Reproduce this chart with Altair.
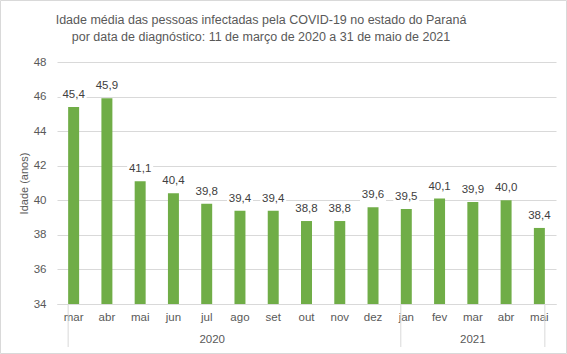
import altair as alt
import pandas as pd

years = ["2020"] * 10 + ["2021"] * 5
months = ["mar", "abr", "mai", "jun", "jul", "ago", "set", "out", "nov", "dez",
          "jan", "fev", "mar", "abr", "mai"]
values = [45.4, 45.9, 41.1, 40.4, 39.8, 39.4, 39.4, 38.8, 38.8, 39.6,
          39.5, 40.1, 39.9, 40.0, 38.4]
y_ticks = [34, 36, 38, 40, 42, 44, 46, 48]
title_lines = ["Idade média das pessoas infectadas pela COVID-19 no estado do Paraná",
               "por data de diagnóstico: 11 de março de 2020 a 31 de maio de 2021"]

keys = [f"{y}-{m}" for y, m in zip(years, months)]
df = pd.DataFrame({"key": keys, "year": years, "month": months, "value": values})
df["label"] = [f"{v:.1f}".replace(".", ",") for v in values]
df["base"] = y_ticks[0]

FONT = "Liberation Sans, sans-serif"
GRAY = "#595959"
W, H = 499, 242
PL, PT = 57, 62

xscale = alt.Scale(domain=keys, paddingInner=0.67, paddingOuter=0.335)
yscale = alt.Scale(domain=[34, 48], nice=False, zero=False)

AX_X = alt.Axis(title=None, labelExpr="split(datum.value, '-')[1]",
                labelAngle=0, ticks=False, grid=False, domainColor="#D9D9D9",
                labelColor=GRAY, labelFontSize=11.5, labelFont=FONT,
                labelPadding=7)
AX_Y = alt.Axis(title="Idade (anos)", values=y_ticks, tickCount=8,
                domain=False, ticks=False, labelOverlap=False,
                gridColor="#D9D9D9", labelColor=GRAY, labelFontSize=11.5,
                labelFont=FONT, labelPadding=11, titleColor=GRAY,
                titleFont=FONT, titleFontSize=11, titleFontWeight="normal",
                titlePadding=4)


def X(bp=0.5):
    return alt.X("key:N", scale=xscale, sort=keys, bandPosition=bp, axis=AX_X)


def Y():
    return alt.Y("value:Q", scale=yscale, axis=AX_Y)


base = alt.Chart(df)

bars = base.mark_bar(color="#70AD47").encode(x=X(), y=Y(), y2="base:Q")

label_bg = base.mark_point(
    shape="M-1,-0.45L1,-0.45L1,0.45L-1,0.45Z", filled=True, color="white",
    opacity=1, size=676, yOffset=-12,
).encode(x=X(), y=Y())

labels = base.mark_text(font=FONT, fontSize=11.5, color="#404040", dy=-12,
                        baseline="middle").encode(
    x=X(), y=Y(), text="label:N",
)


def sep(key, bp):
    return alt.Chart(pd.DataFrame({"key": [key]})).mark_rule(
        color="#D9D9D9", strokeWidth=1).encode(
        x=X(bp), y=alt.value(H), y2=alt.value(H + 43))


def year_label(key, bp, text):
    return alt.Chart(pd.DataFrame({"key": [key], "year": [text]})).mark_text(
        font=FONT, fontSize=11.5, color=GRAY, baseline="middle").encode(
        x=X(bp), y=alt.value(H + 36), text="year:N")


border = alt.Chart(pd.DataFrame({"a": [0]})).mark_rect(
    fill="transparent", stroke="#D9D9D9", strokeWidth=1).encode(
    x=alt.value(-PL + 0.5), x2=alt.value(567 - PL - 0.5),
    y=alt.value(-PT + 0.5), y2=alt.value(354 - PT - 0.5),
)

title = alt.Chart(pd.DataFrame({"a": [0]})).mark_text(
    font=FONT, fontSize=12.5, color=GRAY, lineHeight=17, baseline="middle",
    align="center").encode(
    x=alt.value(261 - PL), y=alt.value(20 - PT), text=alt.value(title_lines))

chart = alt.layer(
    border, title, bars, label_bg, labels,
    sep(keys[0], 0), sep(keys[10], 0), sep(keys[14], 1),
    year_label(keys[4], 1, years[0]), year_label(keys[12], 0.5, years[10]),
).properties(
    width=W, height=H,
    background="white",
    autosize=alt.AutoSizeParams(type="none"),
    padding={"left": PL, "top": PT, "right": 567 - PL - W, "bottom": 354 - PT - H},
).configure_view(stroke="transparent", strokeWidth=0)

chart.save("out.html", embed_options={"renderer": "svg", "actions": False})
